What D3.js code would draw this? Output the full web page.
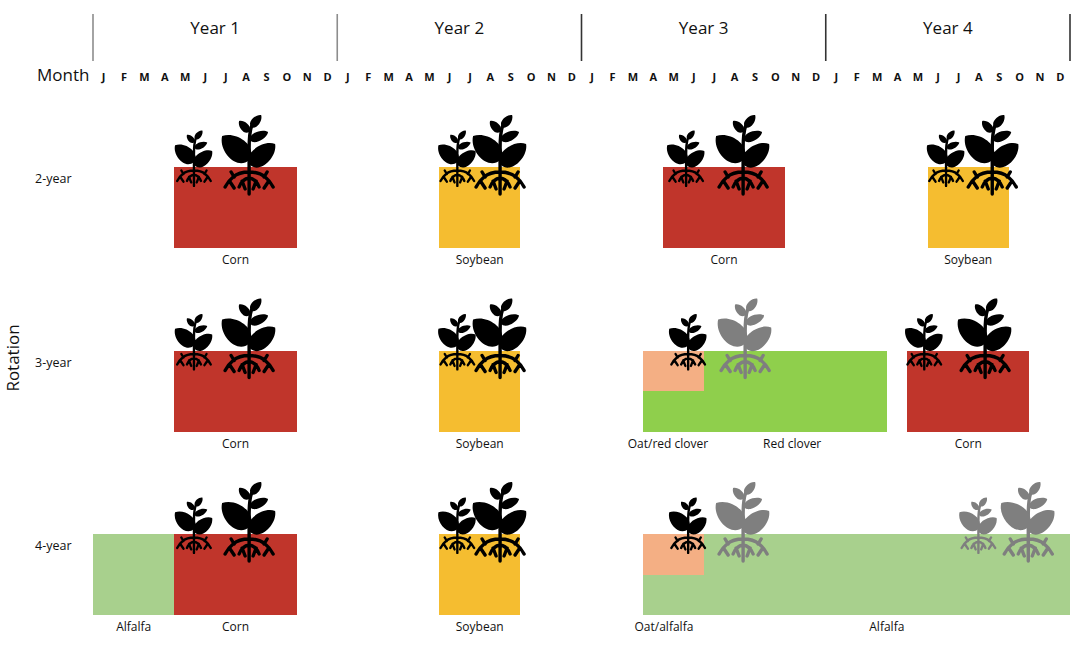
<!DOCTYPE html>
<html>
<head>
<meta charset="utf-8">
<script src="https://cdn.jsdelivr.net/npm/d3@7"></script>
<style>
    body { margin: 0; background: #fff; }
    svg { display: block; font-family: "Open Sans", sans-serif; }
</style>
</head>
<body>
<div id="chart"></div>
<script>

// ---- data ----
const rotations = ["2-year", "3-year", "4-year"];
const yearLabels = ["Year 1", "Year 2", "Year 3", "Year 4"];
const monthLetters = ["J", "F", "M", "A", "M", "J", "J", "A", "S", "O", "N", "D"];
const crops = ["Corn", "Soybean", "Oat", "Red clover", "Alfalfa"];
const cropColors = ["#c0352b", "#f5bd30", "#f4af84", "#8fcf4c", "#a8d08d"];

// months counted from the start of Year 1, end exclusive
const fields = [
    {rot: "2-year", crop: "Corn", start: 4, end: 10, layer: "full"},
    {rot: "2-year", crop: "Soybean", start: 17, end: 21, layer: "full"},
    {rot: "2-year", crop: "Corn", start: 28, end: 34, layer: "full"},
    {rot: "2-year", crop: "Soybean", start: 41, end: 45, layer: "full"},

    {rot: "3-year", crop: "Corn", start: 4, end: 10, layer: "full"},
    {rot: "3-year", crop: "Soybean", start: 17, end: 21, layer: "full"},
    {rot: "3-year", crop: "Oat", start: 27, end: 30, layer: "upper"},
    {rot: "3-year", crop: "Red clover", start: 27, end: 30, layer: "lower"},
    {rot: "3-year", crop: "Red clover", start: 30, end: 39, layer: "full"},
    {rot: "3-year", crop: "Corn", start: 40, end: 46, layer: "full"},

    {rot: "4-year", crop: "Alfalfa", start: 0, end: 4, layer: "full"},
    {rot: "4-year", crop: "Corn", start: 4, end: 10, layer: "full"},
    {rot: "4-year", crop: "Soybean", start: 17, end: 21, layer: "full"},
    {rot: "4-year", crop: "Oat", start: 27, end: 30, layer: "upper"},
    {rot: "4-year", crop: "Alfalfa", start: 27, end: 30, layer: "lower"},
    {rot: "4-year", crop: "Alfalfa", start: 30, end: 48, layer: "full"}
];

const cropLabels = [
    {rot: "2-year", text: "Corn", at: 7},
    {rot: "2-year", text: "Soybean", at: 19},
    {rot: "2-year", text: "Corn", at: 31},
    {rot: "2-year", text: "Soybean", at: 43},
    {rot: "3-year", text: "Corn", at: 7},
    {rot: "3-year", text: "Soybean", at: 19},
    {rot: "3-year", text: "Oat/red clover", at: 28.25},
    {rot: "3-year", text: "Red clover", at: 34.35},
    {rot: "3-year", text: "Corn", at: 43},
    {rot: "4-year", text: "Alfalfa", at: 2},
    {rot: "4-year", text: "Corn", at: 7},
    {rot: "4-year", text: "Soybean", at: 19},
    {rot: "4-year", text: "Oat/alfalfa", at: 28.05},
    {rot: "4-year", text: "Alfalfa", at: 39}
];

// stem position in months; gray = established forage (second season)
const plants = [
    {rot: "2-year", at: 4.96, size: "small", tone: "black"},
    {rot: "2-year", at: 7.67, size: "large", tone: "black"},
    {rot: "2-year", at: 17.9, size: "small", tone: "black"},
    {rot: "2-year", at: 20.0, size: "large", tone: "black"},
    {rot: "2-year", at: 29.14, size: "small", tone: "black"},
    {rot: "2-year", at: 31.94, size: "large", tone: "black"},
    {rot: "2-year", at: 41.91, size: "small", tone: "black"},
    {rot: "2-year", at: 44.18, size: "large", tone: "black"},

    {rot: "3-year", at: 4.96, size: "small", tone: "black"},
    {rot: "3-year", at: 7.67, size: "large", tone: "black"},
    {rot: "3-year", at: 17.9, size: "small", tone: "black"},
    {rot: "3-year", at: 20.0, size: "large", tone: "black"},
    {rot: "3-year", at: 29.24, size: "small", tone: "black"},
    {rot: "3-year", at: 32.04, size: "large", tone: "gray"},
    {rot: "3-year", at: 40.84, size: "small", tone: "black"},
    {rot: "3-year", at: 43.83, size: "large", tone: "black"},

    {rot: "4-year", at: 4.96, size: "small", tone: "black"},
    {rot: "4-year", at: 7.67, size: "large", tone: "black"},
    {rot: "4-year", at: 17.9, size: "small", tone: "black"},
    {rot: "4-year", at: 20.0, size: "large", tone: "black"},
    {rot: "4-year", at: 29.24, size: "small", tone: "black"},
    {rot: "4-year", at: 31.94, size: "large", tone: "gray"},
    {rot: "4-year", at: 43.5, size: "small", tone: "gray"},
    {rot: "4-year", at: 45.95, size: "large", tone: "gray"}
];

// ---- setup ----
const width = 1084, height = 647;
const barH = 81;

const svg = d3.select("#chart").append("svg")
    .attr("width", width)
    .attr("height", height);

svg.append("rect").attr("width", width).attr("height", height).attr("fill", "#fff");

const x = d3.scaleLinear().domain([0, 48]).range([93, 1070]);
const yTop = d3.scalePoint().domain(rotations).range([167, 534]);
const color = d3.scaleOrdinal().domain(crops).range(cropColors);
const tone = d3.scaleOrdinal().domain(["black", "gray"]).range(["#000", "#7f7f7f"]);
const plantScale = d3.scaleOrdinal().domain(["small", "large"]).range([0.7, 1]);

// ---- header: years and months ----
svg.selectAll(".year-line")
    .data(d3.range(yearLabels.length + 1))
    .enter().append("line")
    .attr("class", "year-line")
    .attr("x1", d => x(d * 12)).attr("x2", d => x(d * 12))
    .attr("y1", 14).attr("y2", 61)
    .attr("stroke", d => d < 2 ? "#8d8d8d" : "#333")
    .attr("stroke-width", 1.6);

svg.selectAll(".year-label")
    .data(yearLabels)
    .enter().append("text")
    .attr("class", "year-label")
    .attr("x", (d, i) => x(i * 12 + 6))
    .attr("y", 34)
    .attr("text-anchor", "middle")
    .attr("font-size", 17)
    .attr("fill", "#111")
    .text(d => d);

const monthAxis = d3.axisBottom(x)
    .tickValues(d3.range(48).map(i => i + 0.5))
    .tickFormat(d => monthLetters[Math.floor(d) % 12])
    .tickSize(0);

const monthG = svg.append("g")
    .attr("class", "month-axis")
    .attr("transform", "translate(0,81)")
    .call(monthAxis);

monthG.select(".domain").remove();
monthG.selectAll("text")
    .attr("y", 0)
    .attr("dy", null)
    .attr("font-family", "Open Sans, sans-serif")
    .attr("font-size", 11)
    .attr("font-weight", "bold")
    .attr("fill", "#111");

svg.append("text")
    .attr("x", 37)
    .attr("y", 81)
    .attr("font-size", 17)
    .attr("fill", "#111")
    .text("Month");

// ---- rotation labels ----
svg.append("text")
    .attr("transform", "translate(19,358) rotate(-90)")
    .attr("text-anchor", "middle")
    .attr("font-size", 17)
    .attr("fill", "#111")
    .text("Rotation");

svg.selectAll(".rot-label")
    .data(rotations)
    .enter().append("text")
    .attr("class", "rot-label")
    .attr("x", 35)
    .attr("y", d => yTop(d) + 16)
    .attr("font-size", 12.5)
    .attr("fill", "#111")
    .text(d => d);

// ---- fields ----
svg.selectAll(".field")
    .data(fields)
    .enter().append("rect")
    .attr("class", "field")
    .attr("x", d => x(d.start))
    .attr("width", d => x(d.end) - x(d.start))
    .attr("y", d => yTop(d.rot) + (d.layer === "lower" ? barH / 2 : 0))
    .attr("height", d => d.layer === "full" ? barH : barH / 2)
    .attr("fill", d => color(d.crop))
    .attr("shape-rendering", "crispEdges");

// ---- plant glyph ----
function leaf(ax, ay, tx, ty, hw) {
    const dx = tx - ax, dy = ty - ay;
    const len = Math.hypot(dx, dy);
    const nx = -dy / len * hw, ny = dx / len * hw;
    const p = (t, s) => [ax + dx * t + nx * s, ay + dy * t + ny * s];
    const a1 = p(0.05, 1.35), a2 = p(0.8, 1.15), b1 = p(0.8, -1.15), b2 = p(0.05, -1.35);
    return `M${ax},${ay}C${a1} ${a2} ${tx},${ty}C${b1} ${b2} ${ax},${ay}Z`;
}

const leafShapes = [
    leaf(0, -7, -27, -31, 12),
    leaf(1, -2, 26, -23, 10),
    leaf(1, -27, 19, -35, 5),
    leaf(0, -35, -10, -46, 4.5),
    leaf(2, -40, 12, -52, 4.5)
].join("");

const stemPath = "M0,22L0,-18Q0,-34 2.5,-41";
const rootPath = [
    "M0,0L0,27",
    "M0,5Q-10,5 -16,10Q-21,14 -24,20",
    "M0,5Q10,5 16,10Q21,14 24,20",
    "M0,11Q-7,12 -10,20",
    "M0,11Q7,12 10,20",
    "M-15,10L-18,5",
    "M15,10L18,5",
    "M-19,15L-15,21",
    "M19,15L15,21",
    "M-7,14L-4,22",
    "M7,14L4,22"
].join("");

const plantG = svg.selectAll(".plant")
    .data(plants)
    .enter().append("g")
    .attr("class", "plant")
    .attr("transform", d => `translate(${x(d.at)},${yTop(d.rot)}) scale(${plantScale(d.size)})`);

plantG.append("path")
    .attr("d", stemPath + rootPath)
    .attr("fill", "none")
    .attr("stroke", d => tone(d.tone))
    .attr("stroke-width", 3.4)
    .attr("stroke-linecap", "round")
    .attr("stroke-linejoin", "round");

plantG.append("path")
    .attr("d", leafShapes)
    .attr("fill", d => tone(d.tone));

// ---- crop labels ----
svg.selectAll(".crop-label")
    .data(cropLabels)
    .enter().append("text")
    .attr("class", "crop-label")
    .attr("x", d => x(d.at))
    .attr("y", d => yTop(d.rot) + barH + 16)
    .attr("text-anchor", "middle")
    .attr("font-size", 12)
    .attr("fill", "#111")
    .text(d => d.text);

</script>
</body>
</html>
